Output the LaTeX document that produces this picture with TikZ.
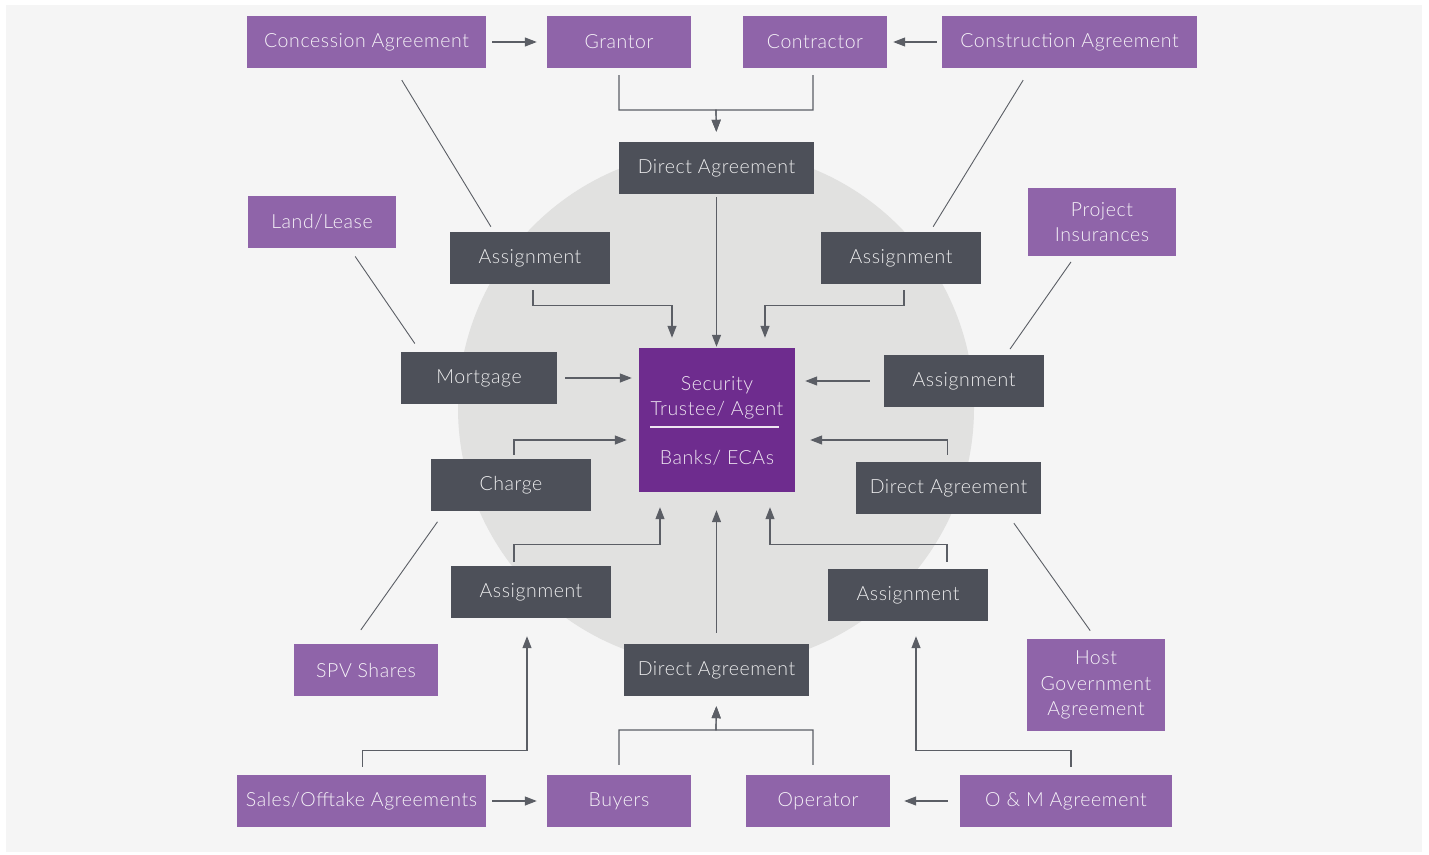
\documentclass[tikz,border=0pt]{standalone}
\usepackage{fontspec}
\setmainfont{Lato}[UprightFont=* Light, LetterSpace=3]
\usepackage{tikz}
\usetikzlibrary{arrows.meta}

\definecolor{bgGray}{HTML}{F5F5F5}
\definecolor{circGray}{HTML}{E1E1E0}
\definecolor{partyPurple}{HTML}{8F64A9}
\definecolor{secDark}{HTML}{4D5059}
\definecolor{hubPurple}{HTML}{6E2C8E}
\definecolor{lineGray}{HTML}{5B5E65}

\begin{document}
\begin{tikzpicture}[x=1pt,y=-1pt,
    box/.style={rectangle, inner sep=0pt, align=center, font=\fontsize{19.5}{25.5}\selectfont},
    party/.style={box, fill=partyPurple, text=white!92!partyPurple},
    secdoc/.style={box, fill=secDark, text=white!90!secDark},
    link/.style={lineGray, line width=1.2pt},
    flow/.style={link, -{Triangle[length=12pt,width=9pt]}}]
    % Background
    \fill[white] (0,0) rectangle (1429,854);
    \fill[bgGray] (6,5) rectangle (1422,852);
    \fill[circGray] (716,408) circle (258);

    % Parties and agreements
    \node[party, minimum width=239, minimum height=52] (cagr) at (366.5,42) {Concession Agreement};
    \node[party, minimum width=144, minimum height=52] (grantor) at (619,42) {Grantor};
    \node[party, minimum width=144, minimum height=52] (contractor) at (815,42) {Contractor};
    \node[party, minimum width=255, minimum height=52] (cons) at (1069.5,42) {Construction Agreement};
    \node[party, minimum width=148, minimum height=52] (land) at (322,222) {Land/Lease};
    \node[party, minimum width=148, minimum height=68] (pins) at (1102,222) {Project\\Insurances};
    \node[party, minimum width=144, minimum height=52] (spv) at (366,670) {SPV Shares};
    \node[party, minimum width=138, minimum height=92] (host) at (1096,685) {Host\\Government\\Agreement};
    \node[party, minimum width=249, minimum height=52] (sales) at (361.5,801) {Sales/Offtake Agreements};
    \node[party, minimum width=144, minimum height=52] (buyers) at (619,801) {Buyers};
    \node[party, minimum width=144, minimum height=52] (oper) at (818,801) {Operator};
    \node[party, minimum width=212, minimum height=52] (om) at (1066,801) {O \& M Agreement};

    % Security documents
    \node[secdoc, minimum width=195, minimum height=52] (datop) at (716.5,168) {Direct Agreement};
    \node[secdoc, minimum width=160, minimum height=52] (atl) at (530,258) {Assignment};
    \node[secdoc, minimum width=160, minimum height=52] (atr) at (901,258) {Assignment};
    \node[secdoc, minimum width=156, minimum height=52] (mort) at (479,378) {Mortgage};
    \node[secdoc, minimum width=160, minimum height=52] (ar) at (964,381) {Assignment};
    \node[secdoc, minimum width=160, minimum height=52] (charge) at (511,485) {Charge};
    \node[secdoc, minimum width=185, minimum height=52] (dar) at (948.5,488) {Direct Agreement};
    \node[secdoc, minimum width=160, minimum height=52] (abl) at (531,592) {Assignment};
    \node[secdoc, minimum width=160, minimum height=52] (abr) at (908,595) {Assignment};
    \node[secdoc, minimum width=185, minimum height=52] (dabot) at (716.5,670) {Direct Agreement};

    % Security trustee
    \node[box, fill=hubPurple, minimum width=156, minimum height=144] (sec) at (717,420) {};
    \node[box, text=white!88!hubPurple] (sectop) at (717,398) {Security\\Trustee/ Agent};
    \node[box, text=white!88!hubPurple] (secbot) at (717,458) {Banks/ ECAs};
    \draw[white!88!hubPurple, line width=1.6pt] ([xshift=-67pt]sec.center) ++(0,7) -- ++(129,0);

    % Top row
    \draw[flow, shorten <=6pt, shorten >=10pt] (cagr) -- (grantor);
    \draw[flow, shorten <=5pt, shorten >=6pt] (cons) -- (contractor);
    \coordinate (jtop) at (716,110);
    \draw[flow, shorten <=7pt, shorten >=10pt] (grantor.south) |- (jtop) -- (datop.north);
    \draw[flow, shorten <=7pt, shorten >=10pt] ([xshift=-2pt]contractor.south) |- (jtop) -- (datop.north);
    \draw[flow, shorten <=3pt, shorten >=1pt] (datop.south) -- (sec.north -| datop.south);

    % Into the security trustee
    \draw[flow, shorten <=6pt, shorten >=10pt] ([xshift=3pt]atl.south) -- ++(0,21) -| ([xshift=-45pt]sec.north);
    \draw[flow, shorten <=6pt, shorten >=10pt] ([xshift=3pt]atr.south) -- ++(0,21) -| ([xshift=48pt]sec.north);
    \draw[flow, shorten <=8pt, shorten >=7pt] (mort.east) -- (mort.east -| sec.west);
    \draw[flow, shorten <=14pt, shorten >=10pt] (ar.west) -- (ar.west -| sec.east);
    \draw[flow, shorten <=4pt, shorten >=12pt] ([xshift=3pt]charge.north) |- ([yshift=-20pt]sec.west);
    \draw[flow, shorten <=7pt, shorten >=15pt] ([xshift=-1pt]dar.north) |- ([yshift=-20pt]sec.east);
    \draw[flow, shorten <=4pt, shorten >=15pt] ([xshift=-17pt]abl.north) -- ++(0,-21) -| ([xshift=-57pt]sec.south);
    \draw[flow, shorten <=7pt, shorten >=15pt] ([xshift=39pt]abr.north) -- ++(0,-24) -| ([xshift=53pt]sec.south);
    \draw[flow, shorten <=11pt, shorten >=18pt] (dabot.north) -- (sec.south -| dabot.north);

    % Bottom row
    \coordinate (jbot) at (716,730);
    \draw[flow, shorten <=10pt, shorten >=10pt] (buyers.north) |- (jbot) -- (dabot.south);
    \draw[flow, shorten <=10pt, shorten >=10pt] ([xshift=-5pt]oper.north) |- (jbot) -- (dabot.south);
    \draw[flow, shorten <=6pt, shorten >=10pt] (sales) -- (buyers);
    \draw[flow, shorten <=12pt, shorten >=14pt] (om) -- (oper);
    \draw[flow, shorten <=8pt, shorten >=18pt] ([xshift=1pt]sales.north) -- ++(0,-24) -| ([xshift=-4pt]abl.south);
    \draw[flow, shorten <=8pt, shorten >=15pt] ([xshift=5pt]om.north) -- ++(0,-24) -| ([xshift=8pt]abr.south);

    % Plain links
    \draw[link, line width=0.9pt, shorten <=14pt, shorten >=6pt] ([xshift=28pt]cagr.south) -- ([xshift=-36pt]atl.north);
    \draw[link, line width=0.9pt, shorten <=14pt, shorten >=6pt] ([xshift=-39pt]cons.south) -- ([xshift=29pt]atr.north);
    \draw[link, line width=0.9pt, shorten <=10pt, shorten >=10pt] ([xshift=27.5pt]land.south) -- ([xshift=-58.5pt]mort.north);
    \draw[link, line width=0.9pt, shorten <=7pt, shorten >=7pt] ([xshift=-27pt]pins.south) -- ([xshift=42pt]ar.north);
    \draw[link, line width=0.9pt, shorten <=17pt, shorten >=13pt] ([xshift=-15pt]spv.north) -- ([xshift=-66pt]charge.south);
    \draw[link, line width=0.9pt, shorten <=10pt, shorten >=11pt] (host.north) -- ([xshift=59pt]dar.south);
\end{tikzpicture}
\end{document}
